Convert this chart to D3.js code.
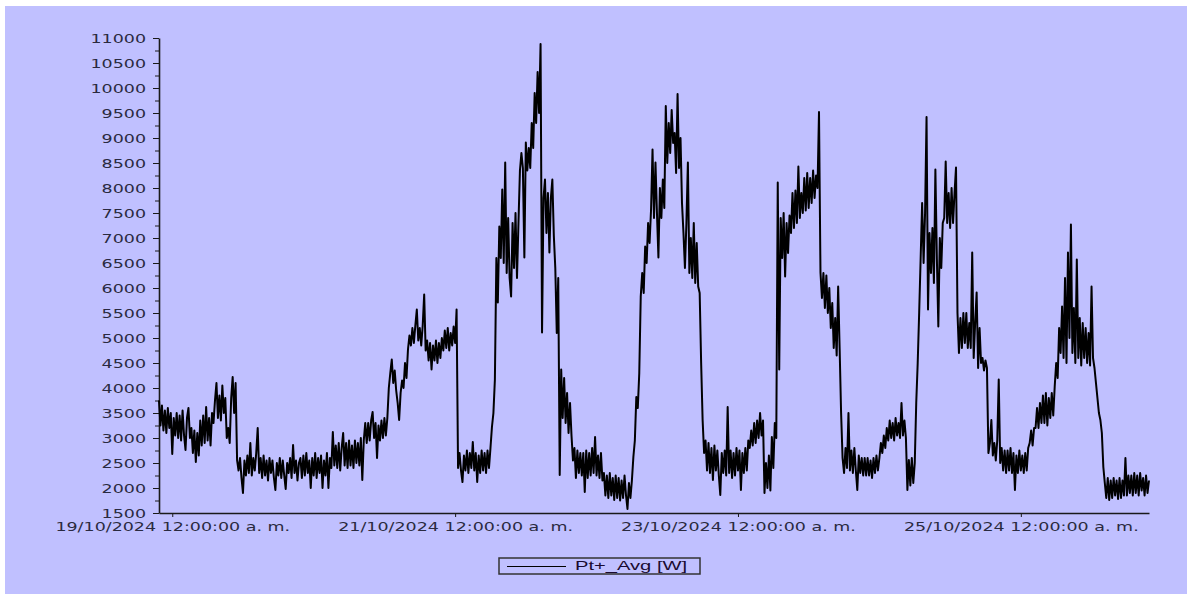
<!DOCTYPE html>
<html>
<head>
<meta charset="utf-8">
<script src="https://cdn.jsdelivr.net/npm/d3@7/dist/d3.min.js"></script>
<style>
  body { margin: 0; background: #fff; }
  svg { display: block; }
</style>
</head>
<body>
<svg id="chart" width="1187" height="594"></svg>
<script>
// series: Pt+_Avg [W], one value every 15 minutes from 18/10/2024 21:45
var start_time = new Date(2024, 9, 18, 21, 45);
var step_minutes = 15;

var day18 = [3750, 3250, 3650, 3150, 3550, 3100, 3600, 3200, 3500, 2680, 3400, 3050,
             3500, 3000, 3450, 2950, 3550, 3050, 2760, 3400, 3600, 3000, 3200, 2700,
             3150, 2520, 3100, 2650, 3350, 2850, 3450, 2900, 3620, 2950, 3400, 2850,
             3500, 3300, 3750, 4100, 3400, 3850, 3350, 4050, 3500, 3800, 3000, 3200,
             2900, 3800, 4220, 3500, 4100, 2560, 2350, 2600, 2200, 1900, 2550, 2250,
             2650, 2300, 2900, 2250, 2600, 2350, 2700, 3200, 2300, 2600, 2200, 2650,
             2250, 2550, 2150, 2600, 2300, 2550, 2200, 1960, 2500, 2250, 2600, 2200,
             2550, 2250, 1980, 2500, 2300, 2600, 2200, 2860, 2300, 2550, 2150, 2500];
var day19 = [2600, 2200, 2650, 2250, 2700, 2300, 2550, 2000, 2600, 2250, 2700, 2200,
             2600, 2300, 2650, 2000, 2550, 2250, 2700, 2000, 2600, 2400, 3120, 2450,
             2850, 2400, 2900, 2350, 2800, 3100, 2450, 2900, 2400, 2950, 2450, 2850,
             2400, 2950, 2500, 2900, 2450, 3000, 2160, 2950, 3300, 2900, 3300, 2950,
             3350, 3520, 3000, 3300, 2600, 3250, 2950, 3350, 3000, 3400, 3050, 3400,
             4000, 4300, 4570, 4100, 4350, 3950, 3700, 3360, 3900, 4150, 4000, 4500,
             4200, 4770, 5050, 4850, 5200, 4900, 5250, 5570, 4950, 5200, 4850, 5250,
             5870, 4750, 4950, 4550, 4900, 4370, 4850, 4550, 4950, 4500, 4900, 4600];
var day20 = [5000, 4750, 5150, 4800, 5200, 4750, 5100, 4850, 5230, 4900, 5570, 2400,
             2700, 2350, 2120, 2650, 2350, 2750, 2300, 2700, 2400, 2920, 2350, 2700,
             2120, 2650, 2300, 2750, 2350, 2700, 2300, 2750, 2400, 2800, 3220, 3500,
             4170, 6600, 5710, 7230, 6600, 7970, 6500, 8510, 6300, 7400, 6200, 5830,
             7300, 6400, 7500, 6200, 7300, 8350, 8700, 8400, 6610, 8910, 8350, 8800,
             8400, 9300, 8800, 9900, 9300, 10320, 9500, 10880, 5110, 7800, 8170, 7100,
             7900, 6710, 7800, 8170, 7050, 6400, 5100, 6200, 2260, 4370, 3400, 4200,
             3300, 3900, 3100, 3700, 3050, 2550, 2800, 2200, 2750, 2300, 2700, 2250];
var day21 = [2700, 1920, 2750, 2200, 2700, 2250, 2800, 2300, 3020, 2250, 2650, 2200,
             2700, 2150, 2300, 1850, 2250, 1800, 2300, 1850, 2200, 1760, 2250, 1800,
             2200, 1750, 2150, 1800, 2250, 1850, 1580, 2100, 1800, 2150, 2620, 2950,
             3820, 3600, 4300, 5830, 6300, 5900, 6830, 6500, 7300, 6900, 7570, 8770,
             7400, 8510, 7500, 6610, 8000, 7400, 8170, 7600, 9640, 8500, 9300, 8700,
             9560, 8900, 9100, 8300, 9880, 8400, 9000, 7700, 7100, 6400, 7300, 8510,
             6300, 7000, 6200, 7300, 6100, 6900, 6030, 5900, 4500, 3360, 2700, 2950,
             2350, 2900, 2300, 2800, 2160, 2850, 2350, 2750, 2250, 1860, 2700, 2300];
var day22 = [2750, 2250, 3620, 2300, 2750, 2200, 2700, 2250, 2800, 2350, 2750, 1960,
             2700, 2300, 2800, 2350, 2950, 2800, 3150, 2850, 3300, 2900, 3350, 3000,
             3500, 3050, 3350, 1900, 2500, 2000, 2650, 1950, 3020, 2400, 3300, 3000,
             8110, 4370, 7400, 6600, 7500, 6230, 7300, 6700, 7450, 7100, 7900, 7200,
             7950, 7300, 8430, 7400, 7900, 7500, 8200, 7550, 8300, 7600, 8200, 7700,
             8350, 7800, 8250, 8000, 9520, 6310, 5800, 6300, 5600, 6250, 5500, 6000,
             5200, 5700, 4800, 5400, 4650, 6030, 4800, 3500, 2600, 2300, 2800, 2400,
             3500, 2350, 2750, 2300, 2800, 2350, 1960, 2650, 2300, 2600, 2250, 2600];
var day23 = [2250, 2600, 2250, 2550, 2200, 2600, 2300, 2650, 2350, 2600, 2900, 2700,
             3050, 2800, 3200, 2950, 3350, 3000, 3300, 2950, 3400, 3050, 3300, 3000,
             3700, 3050, 3350, 3000, 1960, 2560, 2050, 2600, 2100, 2500, 3700, 4500,
             5510, 6600, 7700, 6500, 7500, 9420, 5570, 7100, 6300, 7200, 6100, 8370,
             6600, 5230, 7000, 6400, 7300, 7400, 8530, 7300, 7900, 7200, 8000, 7300,
             7900, 8410, 5500, 4700, 5400, 4800, 5500, 4900, 5500, 4800, 5300, 4800,
             6710, 4600, 5300, 5910, 4400, 5200, 4500, 4600, 4350, 4550, 4400, 2700,
             2900, 3360, 2650, 2900, 2550, 2950, 4170, 2500, 2800, 2350, 2750, 2300];
var day24 = [2750, 2350, 2800, 2300, 2700, 1960, 2650, 2300, 2750, 2350, 2650, 2300,
             2700, 2350, 2800, 2900, 3150, 2850, 3200, 3200, 3600, 3200, 3700, 3300,
             3850, 3300, 3900, 3250, 3800, 3400, 3900, 3450, 4030, 4500, 4200, 5200,
             4700, 5630, 4600, 6200, 4500, 6710, 5000, 7270, 4700, 5600, 4500, 6570,
             4600, 5400, 4450, 5300, 4600, 5200, 4500, 5100, 4450, 6030, 4600, 4400,
             4100, 3800, 3500, 3360, 3100, 2420, 2100, 1800, 2200, 1760, 2150, 1800,
             2200, 1850, 2150, 1780, 2200, 1800, 2150, 1850, 2600, 1850, 2250, 1900,
             2250, 1850, 2300, 1900, 2250, 1850, 2300, 1950, 2200, 1850, 2250, 1900, 2150];

var y_tick_values = [1500, 2000, 2500, 3000, 3500, 4000, 4500, 5000, 5500, 6000,
                     6500, 7000, 7500, 8000, 8500, 9000, 9500, 10000, 10500, 11000];
var x_tick_dates = [new Date(2024, 9, 19), new Date(2024, 9, 21),
                    new Date(2024, 9, 23), new Date(2024, 9, 25)];
var x_tick_labels = ["19/10/2024 12:00:00 a. m.", "21/10/2024 12:00:00 a. m.",
                     "23/10/2024 12:00:00 a. m.", "25/10/2024 12:00:00 a. m."];
var legend_label = "Pt+_Avg [W]";

var all_values = [].concat(day18, day19, day20, day21, day22, day23, day24);
var series = all_values.map(function(v, i) {
	return { t: new Date(start_time.getTime() + i * step_minutes * 60000), v: v };
});

var plot = {left: 159, right: 1149, top: 38, bottom: 513};
var text_stretch = 1.4;   // the original screenshot text is wide

var svg = d3.select("svg#chart");

// lavender panel, leaving the thin white strip top and left
svg.append("rect")
    .attr("x", 5).attr("y", 6)
    .attr("width", 1182).attr("height", 588)
    .attr("fill", "#c0c0ff");

var x = d3.scaleTime()
    .domain([start_time, series[series.length - 1].t])
    .range([plot.left, plot.right]);

var y = d3.scaleLinear()
    .domain([1500, 11000])
    .range([plot.bottom, plot.top]);

// ====================================================
// y axis: minor ticks first, then labelled ones
svg.append("g")
    .attr("class", "minor")
    .attr("transform", "translate(" + plot.left + ",0)")
    .call(d3.axisLeft(y)
        .tickValues(y_tick_values.slice(0, -1).map(function(d) { return d + 250; }))
        .tickSize(4)
        .tickSizeOuter(0)
        .tickFormat(function() { return ""; }))
    .call(function(g) { g.select(".domain").remove(); });

var y_axis = svg.append("g")
    .attr("class", "axis axis--y")
    .attr("transform", "translate(" + plot.left + ",0)")
    .call(d3.axisLeft(y)
        .tickValues(y_tick_values)
        .tickSize(6)
        .tickSizeOuter(0)
        .tickFormat(d3.format("d")));

y_axis.selectAll("text")
    .attr("x", -13 / text_stretch)
    .attr("transform", "scale(" + text_stretch + ",1)");

// ====================================================
// x axis
var x_axis = svg.append("g")
    .attr("class", "axis axis--x")
    .attr("transform", "translate(0," + plot.bottom + ")")
    .call(d3.axisBottom(x)
        .tickValues(x_tick_dates)
        .tickSize(4)
        .tickSizeOuter(0)
        .tickPadding(5)
        .tickFormat(function(d, i) { return x_tick_labels[i]; }));

x_axis.selectAll("text")
    .attr("transform", "scale(" + text_stretch + ",1)");

svg.selectAll("g.tick line, .axis .domain")
    .attr("stroke", "#1a1a1a");
svg.selectAll(".axis .domain").attr("stroke-width", 1.6);
svg.selectAll("g.tick text")
    .attr("fill", "#2a2a40")
    .attr("font-family", "'DejaVu Sans', Verdana, sans-serif")
    .attr("font-size", "12.5px");

// ====================================================
// the series
var line = d3.line()
    .x(function(d) { return x(d.t); })
    .y(function(d) { return y(d.v); });

svg.append("path")
    .datum(series)
    .attr("fill", "none")
    .attr("stroke", "#000")
    .attr("stroke-width", 2)
    .attr("stroke-linejoin", "round")
    .attr("d", line);

// ====================================================
// legend
var legend = svg.append("g")
    .attr("transform", "translate(499,558)");

legend.append("rect")
    .attr("width", 201).attr("height", 16)
    .attr("fill", "none")
    .attr("stroke", "#333")
    .attr("stroke-width", 1.5);

legend.append("line")
    .attr("x1", 8).attr("x2", 67)
    .attr("y1", 8.5).attr("y2", 8.5)
    .attr("stroke", "#000")
    .attr("stroke-width", 1.2);

legend.append("g")
    .attr("transform", "translate(76,11.5)")
    .append("text")
    .attr("transform", "scale(1.55,1)")
    .attr("font-family", "'Liberation Sans', Arial, sans-serif")
    .attr("font-size", "13px")
    .attr("fill", "#1a0a30")
    .text(legend_label);
</script>
</body>
</html>
